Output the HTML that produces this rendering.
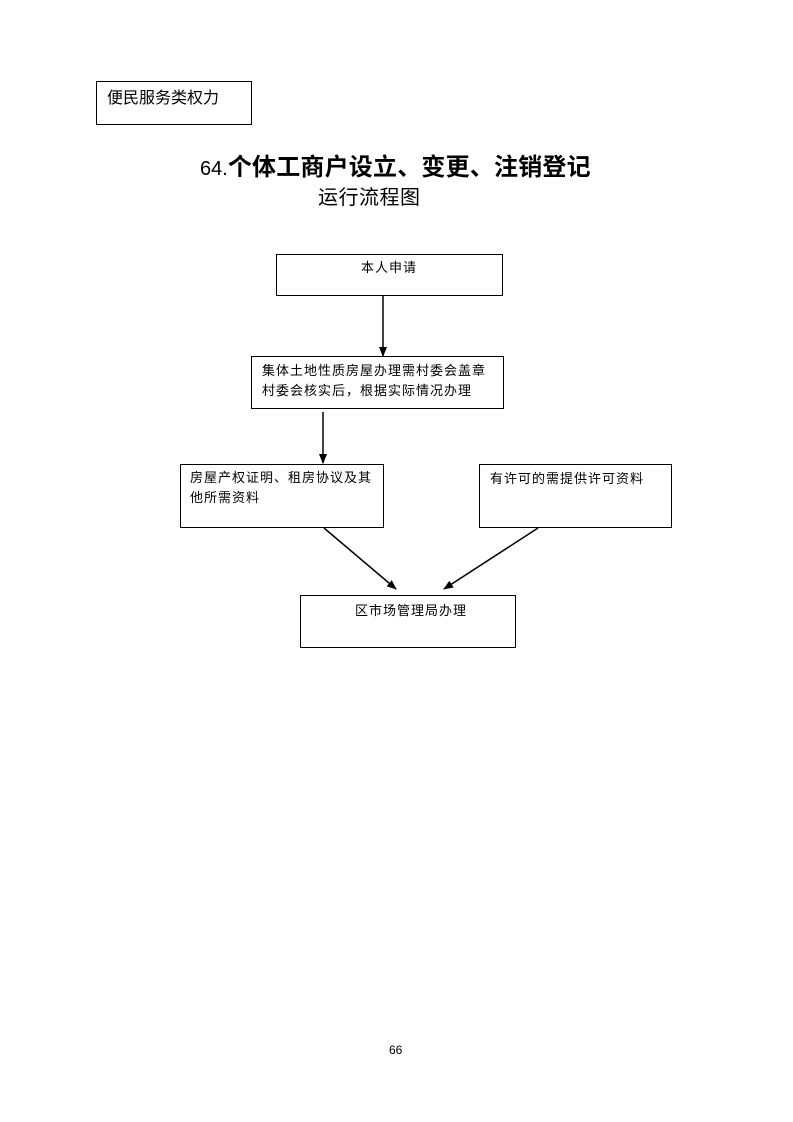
<!DOCTYPE html>
<html><head><meta charset="utf-8"><style>
body{margin:0;background:#fff;width:793px;height:1122px;position:relative;overflow:hidden;font-family:"Liberation Sans","Noto Sans CJK SC",sans-serif;color:#000}
.b{position:absolute;border:1.5px solid #000;box-sizing:border-box}
.t{position:absolute;white-space:nowrap;font-size:13px;line-height:20px;letter-spacing:1px}
</style></head><body>
<div class="b" style="left:96px;top:81px;width:156px;height:44px"></div>
<div class="t" style="left:107px;top:89px;font-size:16px;line-height:20px;letter-spacing:0">便民服务类权力</div>
<div class="t" style="left:200px;top:153px;font-size:24px;line-height:30px;font-weight:bold;letter-spacing:0.2px"><span style="font-weight:normal;font-size:20px;letter-spacing:0">64.</span>个体工商户设立、变更、注销登记</div>
<div class="t" style="left:318px;top:186px;font-size:20px;line-height:24px;letter-spacing:0.5px">运行流程图</div>

<div class="b" style="left:276px;top:254px;width:227px;height:42px"></div>
<div class="t" style="left:361px;top:258px">本人申请</div>

<div class="b" style="left:251px;top:356px;width:253px;height:53px"></div>
<div class="t" style="left:262px;top:361px">集体土地性质房屋办理需村委会盖章<br>村委会核实后，根据实际情况办理</div>

<div class="b" style="left:180px;top:464px;width:204px;height:64px"></div>
<div class="t" style="left:190px;top:468px">房屋产权证明、租房协议及其<br>他所需资料</div>

<div class="b" style="left:479px;top:464px;width:193px;height:64px"></div>
<div class="t" style="left:490px;top:469px">有许可的需提供许可资料</div>

<div class="b" style="left:300px;top:595px;width:216px;height:53px"></div>
<div class="t" style="left:355px;top:601px">区市场管理局办理</div>

<div class="t" style="left:389px;top:1040px;font-size:12px;letter-spacing:0">66</div>

<svg width="793" height="1122" style="position:absolute;left:0;top:0">
<defs><marker id="a" markerWidth="10" markerHeight="8" refX="9" refY="4" orient="auto" markerUnits="userSpaceOnUse"><path d="M0,0L10,4L0,8z" fill="#000"/></marker></defs>
<g stroke="#000" stroke-width="1.5" fill="none">
<line x1="383" y1="296" x2="383" y2="356" marker-end="url(#a)"/>
<line x1="323" y1="412" x2="323" y2="463" marker-end="url(#a)"/>
<line x1="324" y1="528" x2="396" y2="589" marker-end="url(#a)"/>
<line x1="538" y1="528" x2="444" y2="589" marker-end="url(#a)"/>
</g></svg>
</body></html>
